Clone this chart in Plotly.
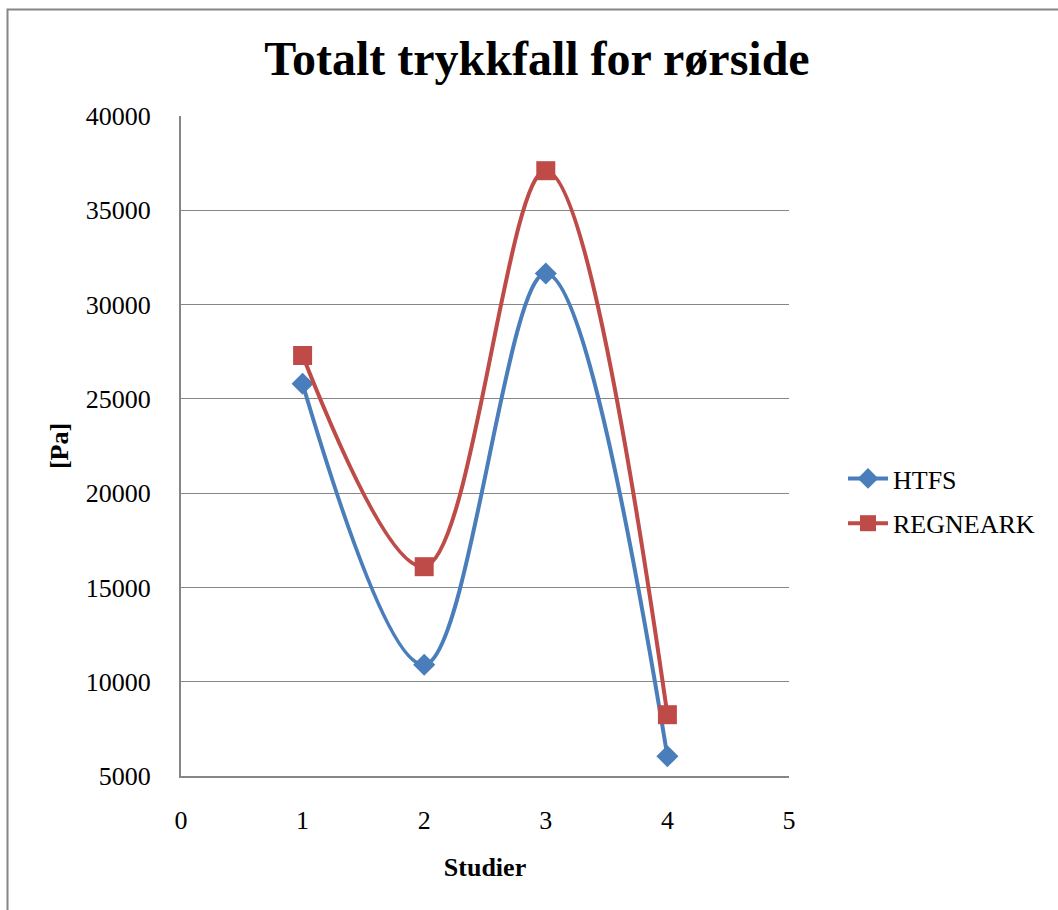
import plotly.graph_objects as go

studier = [1, 2, 3, 4]
htfs = [25800, 10900, 31650, 6050]
regneark = [27300, 16100, 37100, 8250]

x_ticks = [0, 1, 2, 3, 4, 5]
y_ticks = [5000, 10000, 15000, 20000, 25000, 30000, 35000, 40000]
y_labels = [str(v) for v in y_ticks]

serif = "Liberation Serif, Times New Roman, serif"
W, H = 1058, 910
L, R, T, B = 181, 789, 116, 776

fig = go.Figure()
fig.add_trace(go.Scatter(
    x=studier, y=htfs, name="HTFS", mode="lines+markers", legendgroup="a",
    line=dict(color="#4A7EBB", width=4, shape="spline", smoothing=1.0),
    marker=dict(symbol="diamond", size=17, color="#4A7EBB"),
))
fig.add_trace(go.Scatter(
    x=studier, y=regneark, name="REGNEARK", mode="lines+markers", legendgroup="b",
    line=dict(color="#BE4B48", width=4, shape="spline", smoothing=1.0),
    marker=dict(symbol="square", size=19, color="#BE4B48"),
))


def px_to_paper_x(px):
    return (px - L) / (R - L)


def px_to_paper_y(py):
    return (B - py) / (B - T)


# outer chart border (only top/left edges fall inside the page)
fig.add_shape(
    type="rect", xref="paper", yref="paper",
    x0=px_to_paper_x(7.5), x1=px_to_paper_x(1070),
    y0=px_to_paper_y(930), y1=px_to_paper_y(9.5),
    line=dict(color="#868686", width=2), fillcolor="rgba(0,0,0,0)", layer="below",
)

fig.update_layout(
    width=W, height=H,
    margin=dict(l=L, r=W - R, t=T, b=H - B, pad=0),
    paper_bgcolor="white", plot_bgcolor="white",
    font=dict(family=serif, color="black", size=26),
    title=dict(text="<b>Totalt trykkfall for rørside</b>", x=537 / W, xref="container",
               y=1 - 58 / H, yref="container", xanchor="center", yanchor="middle",
               font=dict(family=serif, size=48, color="black")),
    xaxis=dict(range=[0, 5], tickvals=x_ticks, ticks="", showgrid=False,
               showline=True, linecolor="#868686", linewidth=2, zeroline=False,
               ticklabelstandoff=20,
               title=dict(text="<b>Studier</b>", font=dict(family=serif, size=26), standoff=24),
               tickfont=dict(family=serif, size=26)),
    yaxis=dict(range=[5000, 40000], tickvals=y_ticks, ticktext=y_labels, ticks="", showgrid=True,
               gridcolor="#868686", gridwidth=1.3,
               showline=True, linecolor="#868686", linewidth=2, zeroline=False,
               ticklabelstandoff=23,
               title=dict(text="<b>[Pa]</b>", font=dict(family=serif, size=26), standoff=10),
               tickfont=dict(family=serif, size=26)),
    legend=dict(x=px_to_paper_x(843), y=px_to_paper_y(501), xanchor="left", yanchor="middle",
                font=dict(family=serif, size=26), traceorder="grouped", tracegroupgap=8,
                itemwidth=40, bgcolor="rgba(0,0,0,0)"),
    showlegend=True,
)

fig.write_html("out.html")
